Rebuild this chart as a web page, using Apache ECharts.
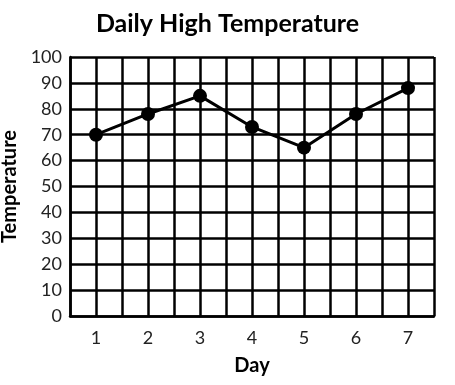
<!DOCTYPE html>
<html>
<head>
<meta charset="utf-8">
<script src="https://cdn.jsdelivr.net/npm/echarts@6/dist/echarts.min.js"></script>
<style>
  html, body { margin: 0; padding: 0; background: #fff; }
  #chart { width: 455px; height: 385px; }
</style>
</head>
<body>
<div id="chart"></div>
<script>
// data
var days = [1, 2, 3, 4, 5, 6, 7]
var temps = [70, 78, 85, 73, 65, 78, 88]

var chart = echarts.init(document.getElementById('chart'))

var font = 'Lato, "DejaVu Sans", sans-serif'

var option = {
  animation: false,
  title: {
    text: 'Daily High Temperature',
    left: 'center',
    top: 6,
    textStyle: {fontFamily: font, fontWeight: 'bold', fontSize: 25, color: '#000'}
  },
  grid: {left: 70, right: 21, top: 57, bottom: 69, outerBoundsMode: 'none', containLabel: false},
  xAxis: {
    type: 'value',
    min: 0.5,
    max: 7.5,
    interval: 0.5,
    name: 'Day',
    nameLocation: 'middle',
    nameGap: 40,
    nameTextStyle: {fontFamily: font, fontWeight: 'bold', fontSize: 20, color: '#000'},
    axisLine: {lineStyle: {color: '#000', width: 2.5}},
    axisTick: {show: false},
    axisLabel: {
      margin: 13,
      fontFamily: font,
      fontSize: 18,
      color: '#222',
      formatter: function (v) {
        return days.indexOf(v) >= 0 ? String(v) : ''
      }
    },
    splitLine: {show: true, showMinLine: true, showMaxLine: true, lineStyle: {color: '#000', width: 2.5}}
  },
  yAxis: {
    type: 'value',
    min: 0,
    max: 100,
    interval: 10,
    name: 'Temperature',
    nameLocation: 'middle',
    nameGap: 43,
    nameRotate: 90,
    nameTextStyle: {fontFamily: font, fontWeight: 'bold', fontSize: 20, color: '#000'},
    axisLine: {show: true, lineStyle: {color: '#000', width: 2.5}},
    axisTick: {show: false},
    axisLabel: {margin: 8, fontFamily: font, fontSize: 18, color: '#222'},
    splitLine: {show: true, showMinLine: true, showMaxLine: true, lineStyle: {color: '#000', width: 2.5}}
  },
  series: [
    {
      type: 'line',
      data: days.map(function (d, i) { return [d, temps[i]] }),
      symbol: 'circle',
      symbolSize: 14,
      lineStyle: {color: '#000', width: 3},
      itemStyle: {color: '#000'}
    }
  ]
}

chart.setOption(option)
</script>
</body>
</html>
